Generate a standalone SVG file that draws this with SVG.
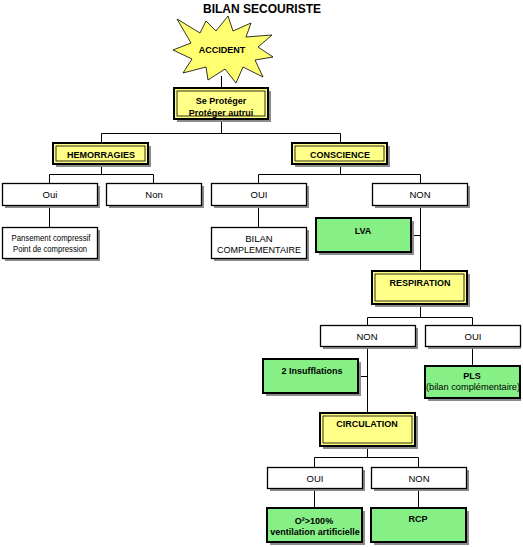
<svg xmlns="http://www.w3.org/2000/svg" width="523" height="547" viewBox="0 0 523 547">
<style>
.bg{fill:#fff}
.sh{fill:#8c8c8c}
.w{fill:#fff;stroke:#000;stroke-width:1.3}
.y{fill:#ffff88;stroke:#000;stroke-width:2}
.yi{fill:none;stroke:#000;stroke-width:0.8}
.g{fill:#86ef86;stroke:#000;stroke-width:2}
.star{fill:#ffff70;stroke:#000;stroke-width:0.8}
text{font-family:"Liberation Sans",Arial,sans-serif;font-size:9.5px;text-anchor:middle;fill:#000}
.b{font-weight:bold;font-size:9px}
.s{font-size:9px}
#connectors line{stroke:#000;stroke-width:1}
</style>
<rect class="bg" x="0" y="0" width="523" height="547"/>
<text id="title" class="b" x="262" y="13" style="font-size:12px">BILAN SECOURISTE</text>

<g id="connectors">
<line x1="221.5" y1="76" x2="221.5" y2="88"/>
<line x1="221.5" y1="119" x2="221.5" y2="133.5"/>
<line x1="101.5" y1="133.5" x2="340.5" y2="133.5"/>
<line x1="101.5" y1="133.5" x2="101.5" y2="143"/>
<line x1="340.5" y1="133.5" x2="340.5" y2="143"/>
<line x1="101.5" y1="164" x2="101.5" y2="174.5"/>
<line x1="49.5" y1="174.5" x2="153.5" y2="174.5"/>
<line x1="49.5" y1="174.5" x2="49.5" y2="183"/>
<line x1="153.5" y1="174.5" x2="153.5" y2="183"/>
<line x1="49.5" y1="205" x2="49.5" y2="227"/>
<line x1="340.5" y1="164" x2="340.5" y2="174.5"/>
<line x1="258.5" y1="174.5" x2="420.5" y2="174.5"/>
<line x1="258.5" y1="174.5" x2="258.5" y2="183"/>
<line x1="420.5" y1="174.5" x2="420.5" y2="183"/>
<line x1="258.5" y1="205" x2="258.5" y2="227"/>
<line x1="420.5" y1="205" x2="420.5" y2="271"/>
<line x1="411" y1="235.5" x2="420.5" y2="235.5"/>
<line x1="420.5" y1="304" x2="420.5" y2="317.5"/>
<line x1="367.5" y1="317.5" x2="472.5" y2="317.5"/>
<line x1="367.5" y1="317.5" x2="367.5" y2="325"/>
<line x1="472.5" y1="317.5" x2="472.5" y2="325"/>
<line x1="367.5" y1="346" x2="367.5" y2="413"/>
<line x1="358" y1="376.5" x2="367.5" y2="376.5"/>
<line x1="472.5" y1="346" x2="472.5" y2="366"/>
<line x1="367.5" y1="446" x2="367.5" y2="457.5"/>
<line x1="314.5" y1="457.5" x2="418.5" y2="457.5"/>
<line x1="314.5" y1="457.5" x2="314.5" y2="467"/>
<line x1="418.5" y1="457.5" x2="418.5" y2="467"/>
<line x1="314.5" y1="488" x2="314.5" y2="508"/>
<line x1="418.5" y1="488" x2="418.5" y2="508"/>
</g>

<g id="accident">
<polygon class="star" points="177,19 200,33 206,21 216,31 228,16 233,31 251,23 246,37 272,35 258,47 273,57 255,60 263,77 243,67 236,83 225,69 208,80 206,67 183,73 192,59 173,50 191,43"/>
<text class="b" x="222" y="53">ACCIDENT</text>
</g>

<g id="proteger">
<rect class="sh" x="177" y="91" width="94" height="31"/>
<rect class="y" x="174" y="88" width="94" height="31"/>
<rect class="yi" x="177" y="91" width="88" height="25"/>
<text class="b" x="221" y="104">Se Protéger</text>
<text class="b" x="221" y="115.5">Protéger autrui</text>
</g>

<g id="hemorragies">
<rect class="sh" x="56" y="146" width="95" height="21"/>
<rect class="y" x="53" y="143" width="95" height="21"/>
<rect class="yi" x="56" y="146" width="89" height="15"/>
<text class="b" x="101" y="157.5">HEMORRAGIES</text>
</g>

<g id="conscience">
<rect class="sh" x="295" y="146" width="95" height="21"/>
<rect class="y" x="292" y="143" width="95" height="21"/>
<rect class="yi" x="295" y="146" width="89" height="15"/>
<text class="b" x="340" y="157.5">CONSCIENCE</text>
</g>

<g id="oui1">
<rect class="sh" x="5" y="186" width="95" height="22"/>
<rect class="w" x="2.5" y="183.5" width="95" height="22"/>
<text x="50" y="198">Oui</text>
</g>

<g id="non1">
<rect class="sh" x="109" y="186" width="95" height="22"/>
<rect class="w" x="106.5" y="183.5" width="95" height="22"/>
<text x="154" y="198">Non</text>
</g>

<g id="oui2">
<rect class="sh" x="214" y="186" width="95" height="22"/>
<rect class="w" x="211.5" y="183.5" width="95" height="22"/>
<text x="259" y="198">OUI</text>
</g>

<g id="non2">
<rect class="sh" x="375" y="186" width="95" height="22"/>
<rect class="w" x="372.5" y="183.5" width="95" height="22"/>
<text x="420" y="198">NON</text>
</g>

<g id="pansement">
<rect class="sh" x="5" y="230" width="95" height="31"/>
<rect class="w" x="2.5" y="227.5" width="95" height="31"/>
<text class="s" x="51" y="241" textLength="79" lengthAdjust="spacingAndGlyphs">Pansement compressif</text>
<text class="s" x="50" y="252" textLength="74" lengthAdjust="spacingAndGlyphs">Point de compression</text>
</g>

<g id="bilan">
<rect class="sh" x="214" y="230" width="95" height="31"/>
<rect class="w" x="211.5" y="227.5" width="95" height="31"/>
<text x="259" y="241.5">BILAN</text>
<text x="259" y="252.5" textLength="84" lengthAdjust="spacingAndGlyphs">COMPLEMENTAIRE</text>
</g>

<g id="lva">
<rect class="sh" x="319" y="221" width="95" height="34"/>
<rect class="g" x="316" y="218" width="95" height="34"/>
<text class="b" x="363" y="234">LVA</text>
</g>

<g id="respiration">
<rect class="sh" x="375" y="274" width="95" height="33"/>
<rect class="y" x="372" y="271" width="95" height="33"/>
<rect class="yi" x="375" y="274" width="89" height="27"/>
<text class="b" x="420" y="286">RESPIRATION</text>
</g>

<g id="non3">
<rect class="sh" x="323" y="328" width="95" height="21"/>
<rect class="w" x="320.5" y="325.5" width="95" height="21"/>
<text x="367" y="339.5">NON</text>
</g>

<g id="oui3">
<rect class="sh" x="428" y="328" width="93" height="21"/>
<rect class="w" x="425.5" y="325.5" width="95" height="21"/>
<text x="473" y="339.5">OUI</text>
</g>

<g id="insufflations">
<rect class="sh" x="266" y="362" width="95" height="34"/>
<rect class="g" x="263" y="359" width="95" height="34"/>
<text class="b" x="312" y="374">2 Insufflations</text>
</g>

<g id="pls">
<rect class="sh" x="428" y="369" width="93" height="32"/>
<rect class="g" x="425" y="366" width="95" height="32"/>
<text class="b" x="472" y="378.5">PLS</text>
<text class="s" x="473" y="389.5" textLength="94" lengthAdjust="spacingAndGlyphs">(bilan complémentaire)</text>
</g>

<g id="circulation">
<rect class="sh" x="323" y="416" width="95" height="33"/>
<rect class="y" x="320" y="413" width="95" height="33"/>
<rect class="yi" x="323" y="416" width="89" height="27"/>
<text class="b" x="367" y="427">CIRCULATION</text>
</g>

<g id="oui4">
<rect class="sh" x="270" y="470" width="95" height="21"/>
<rect class="w" x="267.5" y="467.5" width="95" height="21"/>
<text x="315" y="481.5">OUI</text>
</g>

<g id="non4">
<rect class="sh" x="374" y="470" width="95" height="21"/>
<rect class="w" x="371.5" y="467.5" width="95" height="21"/>
<text x="419" y="481.5">NON</text>
</g>

<g id="o2">
<rect class="sh" x="270" y="511" width="95" height="34"/>
<rect class="g" x="267" y="508" width="95" height="34"/>
<text class="b" x="314" y="523.5">O²&gt;100%</text>
<text class="b" x="315" y="535">ventilation artificielle</text>
</g>

<g id="rcp">
<rect class="sh" x="374" y="511" width="95" height="34"/>
<rect class="g" x="371" y="508" width="95" height="34"/>
<text class="b" x="418" y="522">RCP</text>
</g>
</svg>
